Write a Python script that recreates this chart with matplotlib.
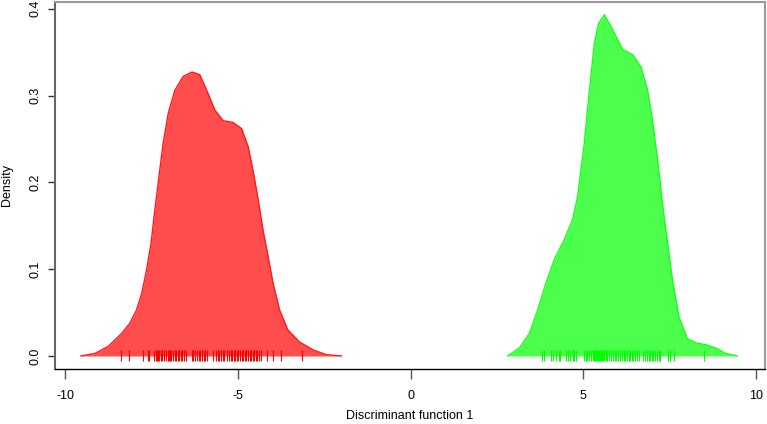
import matplotlib
matplotlib.use("Agg")
import matplotlib.pyplot as plt

plt.rcParams['font.family'] = ['Liberation Sans', 'DejaVu Sans']
plt.rcParams['axes.unicode_minus'] = False

# Density curve of group 1 (red)
red_x = [-9.54, -9.13, -8.75, -8.36, -8.12, -7.93, -7.78, -7.64, -7.51, -7.40,
         -7.28, -7.16, -7.01, -6.82, -6.58, -6.32, -6.10, -5.90, -5.66, -5.42,
         -5.14, -4.89, -4.70, -4.56, -4.41, -4.27, -4.12, -3.98, -3.79, -3.55,
         -3.21, -2.82, -2.44, -2.00]
red_y = [0.0, 0.003, 0.011, 0.026, 0.038, 0.053, 0.072, 0.099, 0.130, 0.168,
         0.207, 0.245, 0.280, 0.306, 0.322, 0.327, 0.324, 0.306, 0.283, 0.271,
         0.269, 0.262, 0.241, 0.214, 0.180, 0.145, 0.114, 0.084, 0.053, 0.030,
         0.016, 0.007, 0.0015, 0.0]

# Density curve of group 2 (green)
green_x = [2.81, 3.15, 3.44, 3.68, 3.92, 4.16, 4.45, 4.69, 4.84, 4.93,
           5.03, 5.12, 5.22, 5.32, 5.44, 5.61, 5.85, 6.14, 6.43, 6.67,
           6.86, 7.00, 7.15, 7.29, 7.44, 7.58, 7.77, 8.01, 8.26, 8.55,
           8.84, 9.12, 9.46]
green_y = [0.0, 0.009, 0.026, 0.053, 0.084, 0.111, 0.134, 0.157, 0.184, 0.214,
           0.245, 0.283, 0.322, 0.360, 0.383, 0.393, 0.376, 0.353, 0.347, 0.333,
           0.306, 0.272, 0.226, 0.176, 0.130, 0.088, 0.045, 0.020, 0.015, 0.013,
           0.009, 0.003, 0.0]

# Individual scores (rug)
red_rug = [-8.39, -8.14, -7.74, -7.61, -7.56, -7.43, -7.38, -7.34, -7.30, -7.27,
           -7.23, -7.19, -7.13, -7.08, -7.03, -6.99, -6.96, -6.92, -6.87, -6.83,
           -6.78, -6.73, -6.70, -6.65, -6.60, -6.55, -6.51, -6.33, -6.29, -6.23,
           -6.18, -6.12, -6.08, -6.03, -5.99, -5.95, -5.90, -5.71, -5.62, -5.58,
           -5.53, -5.49, -5.44, -5.40, -5.31, -5.26, -5.21, -5.16, -5.12, -5.08,
           -5.03, -4.98, -4.94, -4.89, -4.85, -4.80, -4.76, -4.71, -4.66, -4.62,
           -4.57, -4.52, -4.48, -4.43, -4.38, -4.34, -4.14, -3.97, -3.74, -3.14]
green_rug = [3.80, 3.85, 4.07, 4.11, 4.21, 4.31, 4.34, 4.50, 4.55, 4.62,
             4.69, 4.74, 4.79, 5.03, 5.08, 5.12, 5.17, 5.22, 5.27, 5.30,
             5.33, 5.37, 5.40, 5.42, 5.45, 5.48, 5.51, 5.54, 5.57, 5.61,
             5.66, 5.70, 5.75, 5.81, 5.86, 5.91, 5.96, 6.01, 6.06, 6.12,
             6.17, 6.21, 6.26, 6.31, 6.36, 6.41, 6.45, 6.50, 6.55, 6.60,
             6.72, 6.78, 6.84, 6.89, 6.93, 6.99, 7.03, 7.08, 7.14, 7.19,
             7.23, 7.44, 7.51, 7.63, 8.50]

x_ticks = [-10, -5, 0, 5, 10]
y_ticks = [0.0, 0.1, 0.2, 0.3, 0.4]

W, H = 767, 424
fig = plt.figure(figsize=(W / 100, H / 100), dpi=100)
ax = fig.add_axes([55 / W, 1 - 369 / H, 710 / W, 367 / H])

ax.fill_between(red_x, red_y, 0, color=(1, 0, 0, 0.7), linewidth=0)
ax.plot(red_x, red_y, color=(1, 0.1, 0.1), linewidth=1, solid_joinstyle='round')
ax.fill_between(green_x, green_y, 0, color=(0, 1, 0, 0.7), linewidth=0)
ax.plot(green_x, green_y, color=(0.1, 1, 0.1), linewidth=1, solid_joinstyle='round')

ax.vlines(red_rug, -0.006, 0.007, color='#ff0000', linewidth=0.8)
ax.vlines(green_rug, -0.006, 0.007, color='#00ff00', linewidth=0.8)

ax.set_xlim(-10.29, 10.26)
ax.set_ylim(-0.015, 0.4077)

ax.set_xticks(x_ticks)
ax.set_xticklabels([str(v) for v in x_ticks])
ax.set_yticks(y_ticks)
ax.set_yticklabels([f"{v:.1f}" for v in y_ticks], rotation=90, va='center')

ax.tick_params(axis='x', direction='out', length=7, width=1, colors='#555555',
               labelcolor='black', labelsize=9, pad=8)
ax.tick_params(axis='y', direction='out', length=5, width=1, colors='#333333',
               labelcolor='black', labelsize=9, pad=5)

for side in ['top', 'right']:
    ax.spines[side].set_color('#999999')
    ax.spines[side].set_linewidth(1.5)
ax.spines['left'].set_color('#666666')
ax.spines['left'].set_linewidth(1.5)
ax.spines['bottom'].set_color('black')
ax.spines['bottom'].set_linewidth(1)

fig.text(410 / W, 1 - 416 / H, "Discriminant function 1", fontsize=9,
         ha='center', va='center')
fig.text(7 / W, 1 - 185 / H, "Density", fontsize=9, rotation=90,
         ha='center', va='center')

fig.savefig("out.png", dpi=100)
